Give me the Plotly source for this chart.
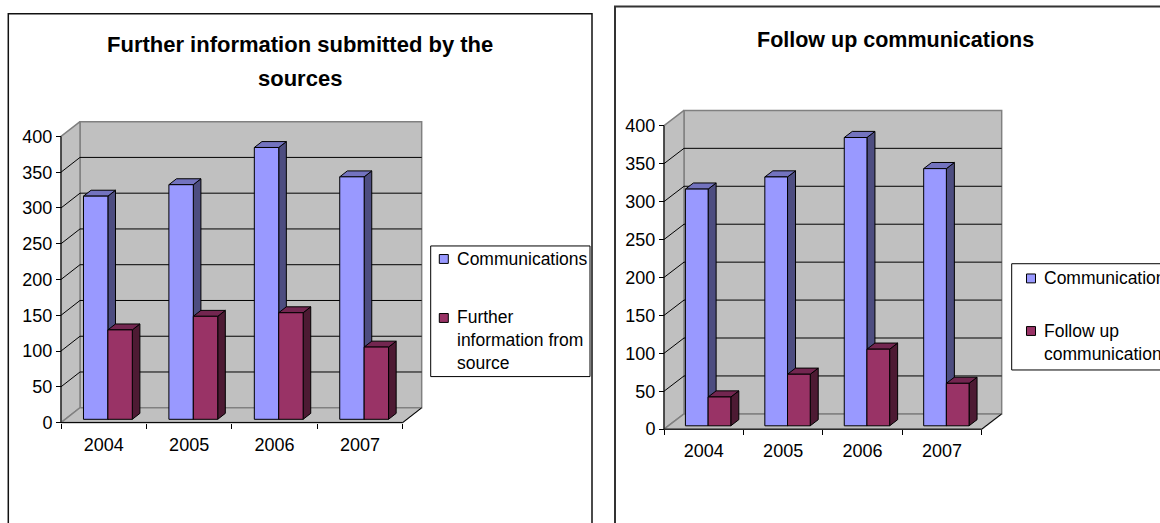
import plotly.graph_objects as go

W, H = 1160, 523

# ---- data -------------------------------------------------------------
years = ["2004", "2005", "2006", "2007"]
communications = [312, 328, 380, 339]
further_information = [125, 144, 149, 101]
follow_up = [38, 68, 101, 56]
y_tick_values = [0, 50, 100, 150, 200, 250, 300, 350, 400]
y_max = 400

series_names = [
    ["Communications", "Further<br>information from<br>source"],
    ["Communications", "Follow up<br>communications"],
]

# ---- styling ----------------------------------------------------------
FONT = "Arial, 'Liberation Sans', sans-serif"
COLORS = [
    dict(front="#9999FF", side="#4D4D80", top="#7373BF"),
    dict(front="#993366", side="#4D1A33", top="#732650"),
]
WALL = "#C0C0C0"
EDGE = "#808080"
BAR_W = 2 / 7          # bar width in category units (gap = 150 % of a bar)
DEPTH_FRONT = 0.22     # bar front plane, as a fraction of the wall depth
DEPTH_BAR = 0.40       # bar depth, as a fraction of the wall depth
PAD = 3                # px of room around the plot box so edge lines are not clipped
TICK_SIZE = 18

# pixel geometry of the two panels (front-left corner, scale, oblique offset)
panels = [
    dict(x0=61.0, kx=85.42, y0=428.3, ky=0.725, ddx=19.0, ddy=15.0,
         values=[communications, further_information]),
    dict(x0=664.0, kx=79.42, y0=435.0, ky=0.769, ddx=20.0, ddy=15.5,
         values=[communications, follow_up]),
]

fig = go.Figure()
n = len(years)


def poly(xs, ys, fill, line_color, width, ax):
    fig.add_trace(go.Scatter(
        x=xs, y=ys, mode="lines", fill="toself" if fill else "none",
        fillcolor=fill, line=dict(color=line_color, width=width),
        hoverinfo="skip", showlegend=False, xaxis=ax[0], yaxis=ax[1]))


def segs(pairs):
    xs, ys = [], []
    for (xa, ya), (xb, yb) in pairs:
        xs += [xa, xb, None]
        ys += [ya, yb, None]
    return xs, ys


layout_axes = {}
for p_i, p in enumerate(panels):
    sfx = "" if p_i == 0 else str(p_i + 1)
    ax = ("x" + sfx, "y" + sfx)
    dxu = p["ddx"] / p["kx"]
    dyu = p["ddy"] / p["ky"]
    xr = n + dxu
    yr = y_max + dyu

    # walls: back, left side, floor
    poly([dxu, xr, xr, dxu, dxu], [dyu, dyu, yr, yr, dyu], WALL, EDGE, 1.5, ax)
    poly([0, dxu, dxu, 0, 0], [0, dyu, yr, y_max, 0], WALL, EDGE, 1.5, ax)
    poly([0, n, xr, dxu, 0], [0, 0, dyu, dyu, 0], WALL, EDGE, 1.5, ax)

    # gridlines on back wall and their diagonals on the side wall
    inner = [v for v in y_tick_values if 0 < v < y_max]
    gx, gy = segs([((dxu, v + dyu), (xr, v + dyu)) for v in inner]
                  + [((0, v), (dxu, v + dyu)) for v in inner])
    poly(gx, gy, None, "black", 1, ax)

    # front axis lines and the floor's right edge
    lx, ly = segs([((0, 0), (0, y_max)), ((0, 0), (n, 0)), ((n, 0), (xr, dyu))])
    poly(lx, ly, None, "black", 1, ax)

    # 3-D columns
    base = DEPTH_FRONT * dyu
    bdx = DEPTH_BAR * dxu
    bdy = DEPTH_BAR * dyu
    for s_i, vals in enumerate(p["values"]):
        fx, fy, sx, sy, tx, ty = [], [], [], [], [], []
        for i, v in enumerate(vals):
            c = i + 0.5 + DEPTH_FRONT * dxu
            xl = c - BAR_W + s_i * BAR_W
            xrb = xl + BAR_W
            t = base + v
            fx += [xl, xrb, xrb, xl, xl, None]
            fy += [base, base, t, t, base, None]
            sx += [xrb, xrb + bdx, xrb + bdx, xrb, xrb, None]
            sy += [base, base + bdy, t + bdy, t, base, None]
            tx += [xl, xrb, xrb + bdx, xl + bdx, xl, None]
            ty += [t, t, t + bdy, t + bdy, t, None]
        col = COLORS[s_i]
        poly(sx, sy, col["side"], "black", 1, ax)
        poly(tx, ty, col["top"], "black", 1, ax)
        poly(fx, fy, col["front"], "black", 1, ax)

    x_dom = [(p["x0"] - PAD) / W, (p["x0"] + p["kx"] * xr + PAD) / W]
    top_px = p["y0"] - p["ky"] * yr - PAD
    y_dom = [(H - (p["y0"] + PAD)) / H, (H - top_px) / H]

    layout_axes["xaxis" + sfx] = dict(
        domain=x_dom, range=[-PAD / p["kx"], xr + PAD / p["kx"]],
        anchor="free", position=(H - p["y0"]) / H,
        showline=False, showgrid=False, zeroline=False,
        tickmode="array", tickvals=[i + 0.5 for i in range(n)], ticktext=years,
        ticks="", ticklabelstandoff=9,
        tickfont=dict(family=FONT, size=TICK_SIZE, color="black"),
        minor=dict(tickmode="array", tickvals=list(range(n + 1)), ticks="outside",
                   ticklen=5, tickwidth=1, tickcolor="black", showgrid=False),
        fixedrange=True,
    )
    layout_axes["yaxis" + sfx] = dict(
        domain=y_dom, range=[-PAD / p["ky"], yr + PAD / p["ky"]],
        anchor="free", position=p["x0"] / W,
        showline=False, showgrid=False, zeroline=False,
        tickmode="array", tickvals=y_tick_values,
        ticks="outside", ticklen=5, tickwidth=1, tickcolor="black",
        tickfont=dict(family=FONT, size=TICK_SIZE, color="black"),
        fixedrange=True,
    )


def px(x):
    return x / W


def py(y):
    return 1 - y / H


def title(text, x, y, size):
    return dict(text="<b>" + text + "</b>", xref="paper", yref="paper", x=px(x), y=py(y),
                xanchor="center", yanchor="middle", showarrow=False,
                font=dict(family=FONT, size=size, color="black"))


shapes = [
    # chart frames
    dict(type="rect", xref="paper", yref="paper", x0=px(8.3), x1=px(592), y0=py(560), y1=py(14),
         line=dict(color="#111111", width=1.5), fillcolor="rgba(0,0,0,0)", layer="below"),
    dict(type="rect", xref="paper", yref="paper", x0=px(615), x1=px(1185), y0=py(560), y1=py(6.7),
         line=dict(color="#333333", width=2), fillcolor="rgba(0,0,0,0)", layer="below"),
]
annotations = [
    title("Further information submitted by the", 300, 45, 22),
    title("sources", 300, 80, 22),
    title("Follow up communications", 895, 40.5, 21.5),
]

# legends: frame, colour keys and labels
LEGEND_SIZE = 17.5
legend_specs = [
    dict(box=(430.7, 249.3, 590, 381.7), key_x=439.3, text_x=455,
         rows=[(262.5, 262.3), (322.3, 345.0)]),
    dict(box=(1011.7, 267.3, 1190, 375), key_x=1026.5, text_x=1041.7,
         rows=[(282.2, 281.7), (335.5, 347.5)]),
]
for p_i, spec in enumerate(legend_specs):
    bx0, by0, bx1, by1 = spec["box"]
    shapes.append(dict(type="rect", xref="paper", yref="paper", x0=px(bx0), x1=px(bx1),
                       y0=py(by1), y1=py(by0), line=dict(color="black", width=1),
                       fillcolor="white"))
    for s_i, (key_y, text_y) in enumerate(spec["rows"]):
        shapes.append(dict(type="rect", xref="paper", yref="paper",
                           x0=px(spec["key_x"]), x1=px(spec["key_x"] + 9),
                           y0=py(key_y + 4.5), y1=py(key_y - 4.5),
                           line=dict(color="black", width=1),
                           fillcolor=COLORS[s_i]["front"]))
        annotations.append(dict(text=series_names[p_i][s_i], xref="paper", yref="paper",
                                x=px(spec["text_x"]), y=py(text_y), xanchor="left",
                                yanchor="middle", align="left", showarrow=False,
                                font=dict(family=FONT, size=LEGEND_SIZE, color="black")))

fig.update_layout(
    width=W, height=H, autosize=False,
    margin=dict(l=0, r=0, t=0, b=0, pad=0),
    paper_bgcolor="white", plot_bgcolor="rgba(0,0,0,0)",
    showlegend=False, shapes=shapes, annotations=annotations,
    **layout_axes,
)

fig.write_html("out.html", config=dict(displayModeBar=False))
